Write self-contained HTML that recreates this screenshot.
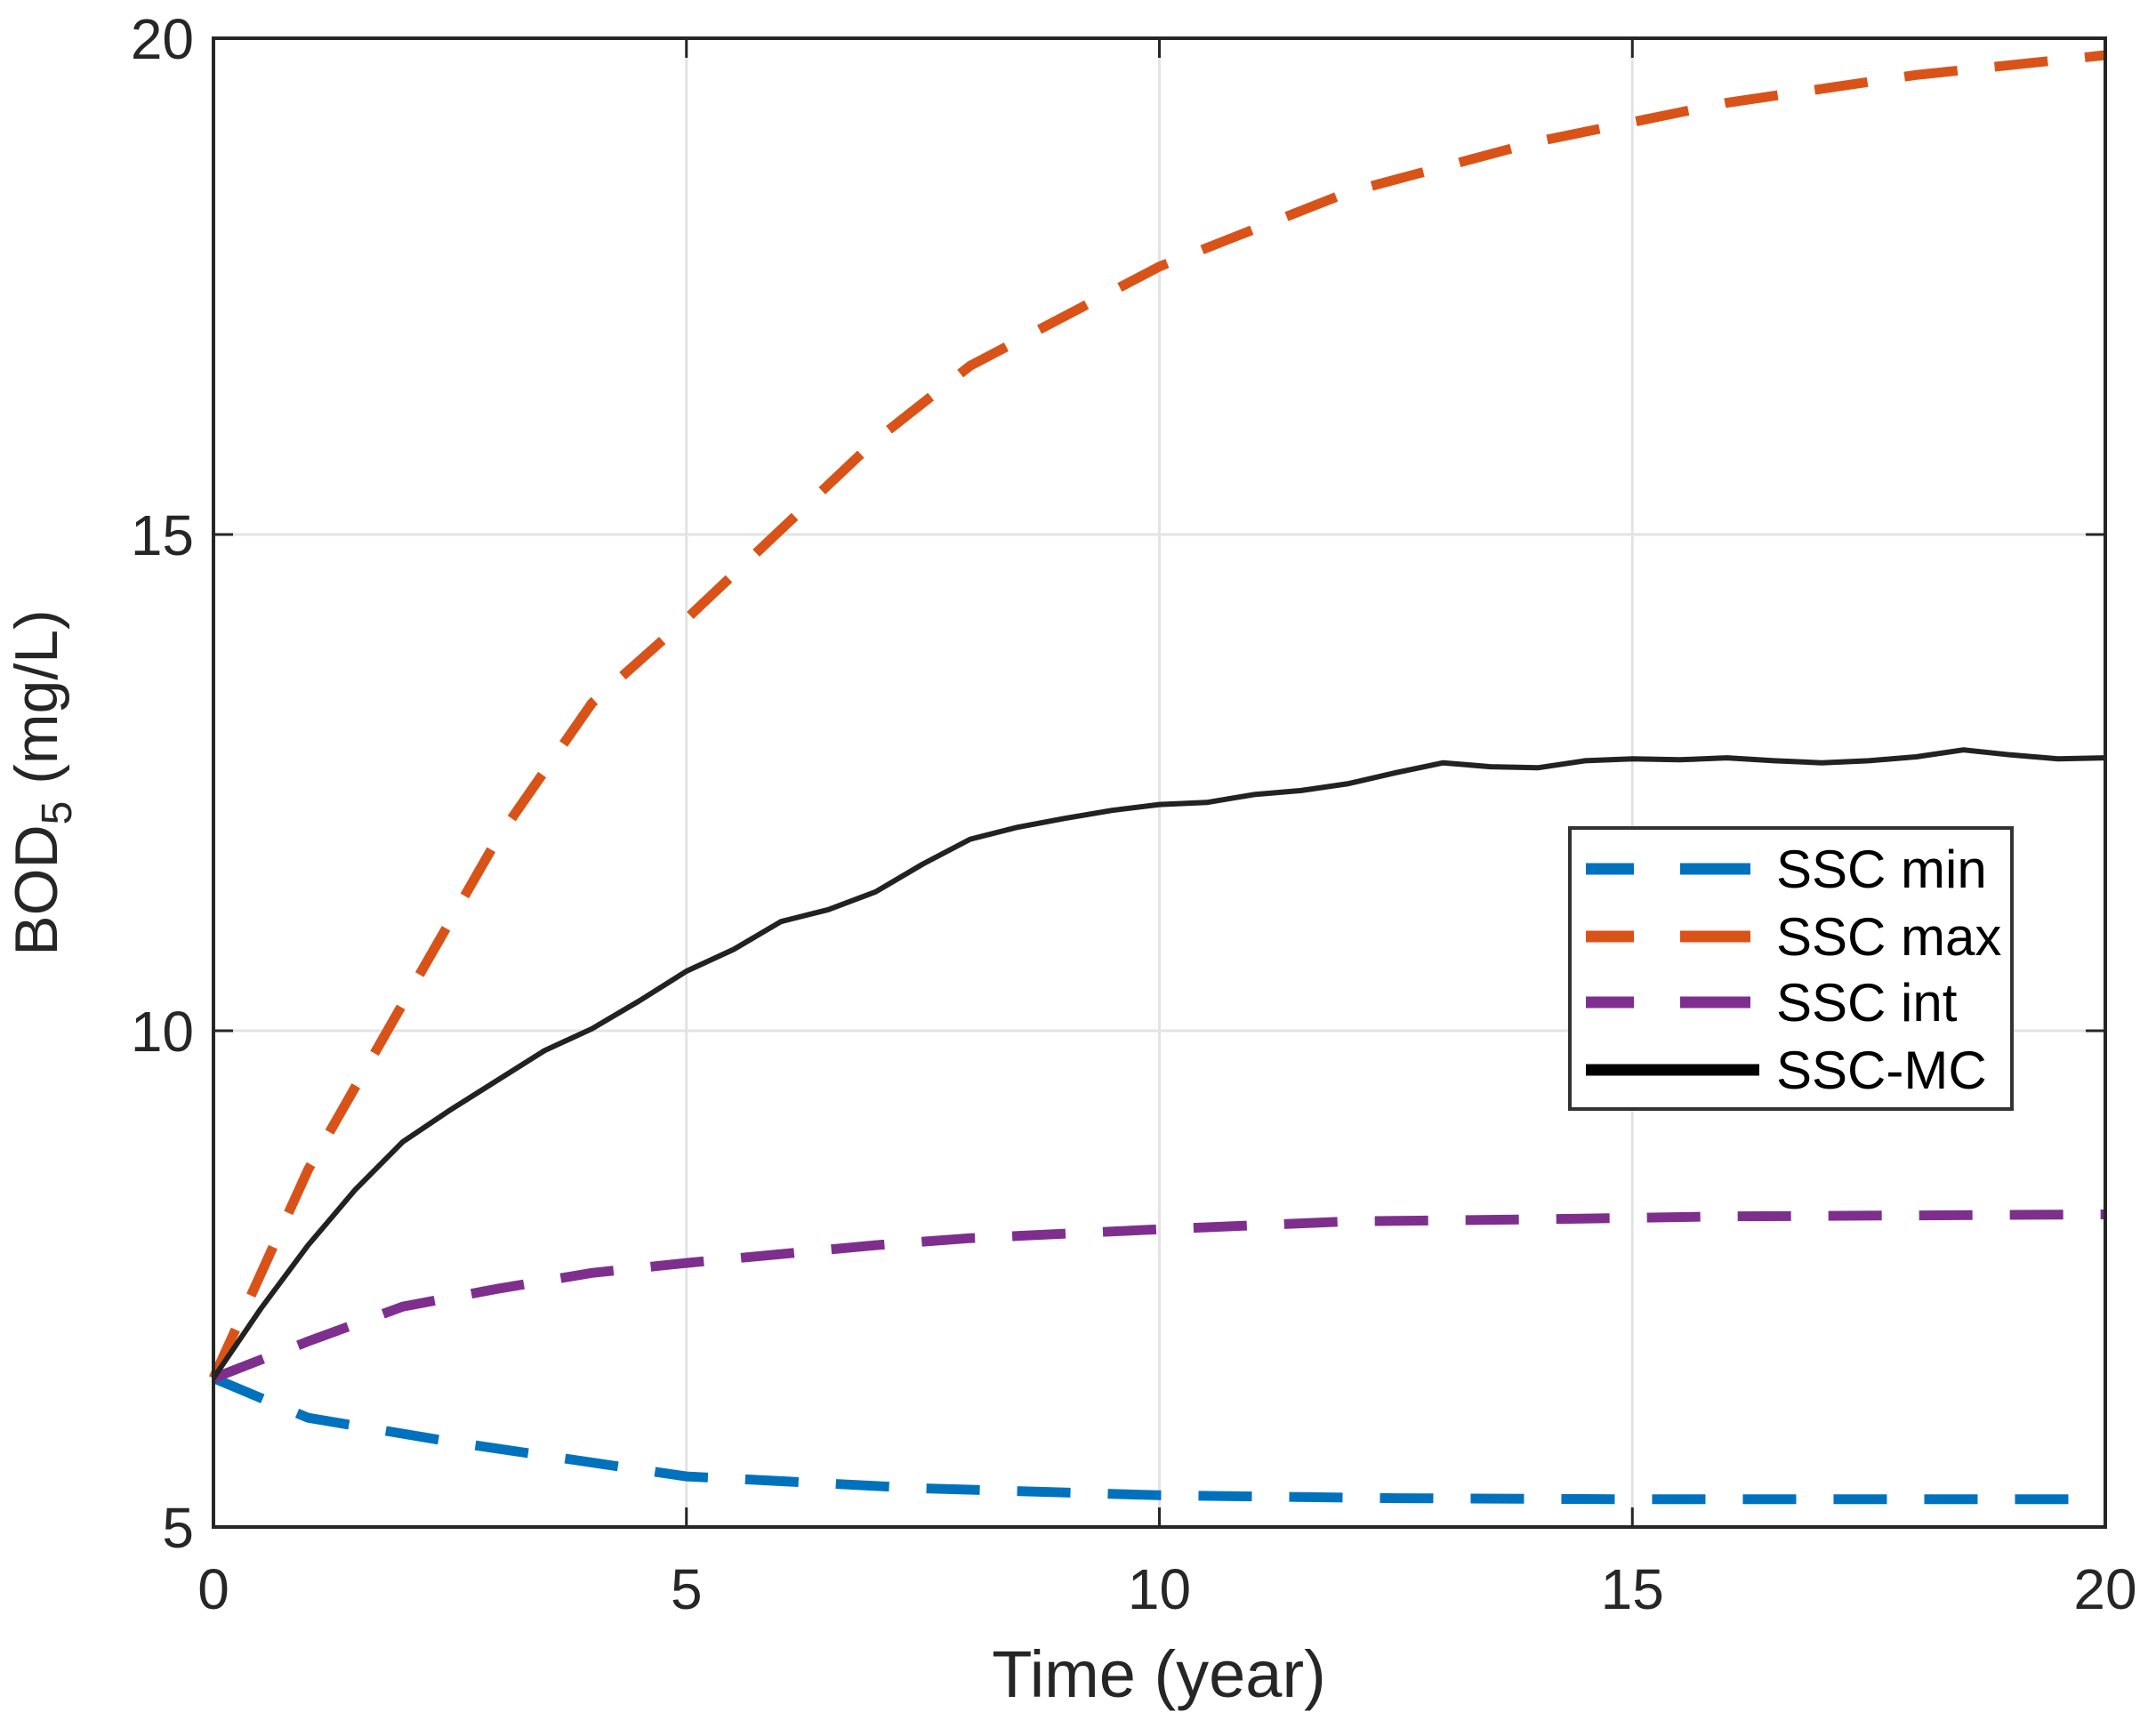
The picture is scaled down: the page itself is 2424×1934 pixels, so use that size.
<!DOCTYPE html>
<html><head><meta charset="utf-8"><style>
html,body{margin:0;padding:0;background:#fff;}
svg{display:block;font-family:"Liberation Sans",sans-serif;}
</style></head><body>
<svg id="chart" width="2424" height="1934" viewBox="0 0 2424 1934">
<g id="grid"></g>
<g id="series"></g>
<g id="axes"></g>
<text x="64" y="880" transform="rotate(-90 64 880)" text-anchor="middle" font-size="68" fill="#262626">BOD<tspan font-size="48" dy="16">5</tspan><tspan dy="-16"> (mg/L)</tspan></text>
<text x="1303" y="1908" text-anchor="middle" font-size="74" fill="#262626">Time (year)</text>
<g id="legend">
<rect x="1765" y="931" width="497" height="316" fill="#fff" stroke="#333" stroke-width="4"/>
<g><line x1="1783" y1="977" x2="1968" y2="977" stroke="#0072BD" stroke-width="13" stroke-dasharray="54 52 80"/><text x="1997" y="998" font-size="60" fill="#000">SSC min</text></g>
<g><line x1="1783" y1="1053" x2="1968" y2="1053" stroke="#D95319" stroke-width="13" stroke-dasharray="54 52 80"/><text x="1997" y="1074" font-size="60" fill="#000">SSC max</text></g>
<g><line x1="1783" y1="1127" x2="1968" y2="1127" stroke="#7E2F8E" stroke-width="13" stroke-dasharray="54 52 80"/><text x="1997" y="1148" font-size="60" fill="#000">SSC int</text></g>
<g><line x1="1783" y1="1203" x2="1978" y2="1203" stroke="#000" stroke-width="13"/><text x="1997" y="1224" font-size="60" fill="#000">SSC-MC</text></g>
</g>
</svg>
<script>
const xTicks = [0, 5, 10, 15, 20];
const yTicks = [5, 10, 15, 20];
const tMin = [0, 1, 2.5, 5, 7.5, 10, 12.5, 15, 17.5, 20];
const vMin = [6.5, 6.1, 5.86, 5.51, 5.39, 5.32, 5.29, 5.28, 5.28, 5.28];
const tMax = [0, 1, 2, 3, 4, 5, 6, 7, 8, 10, 12, 14, 16, 18, 20];
const vMax = [6.5, 8.6, 10.27, 11.93, 13.3, 14.15, 15.05, 15.95, 16.7, 17.7, 18.45, 18.96, 19.35, 19.63, 19.83];
const tInt = [0, 1, 2, 3, 4, 5, 6, 7, 8, 10, 12, 14, 16, 20];
const vInt = [6.5, 6.87, 7.22, 7.4, 7.56, 7.66, 7.75, 7.84, 7.91, 8.0, 8.08, 8.1, 8.13, 8.15];
const tMC = [0, 0.5, 1, 1.5, 2, 2.5, 3, 3.5, 4, 4.5, 5, 5.5, 6, 6.5, 7, 7.5, 8, 8.5, 9, 9.5, 10, 10.5, 11, 11.5, 12, 12.5, 13, 13.5, 14, 14.5, 15, 15.5, 16, 16.5, 17, 17.5, 18, 18.5, 19, 19.5, 20];
const vMC = [6.5, 7.2, 7.84, 8.4, 8.88, 9.2, 9.5, 9.8, 10.02, 10.3, 10.6, 10.82, 11.1, 11.22, 11.4, 11.68, 11.93, 12.05, 12.14, 12.22, 12.28, 12.3, 12.38, 12.42, 12.49, 12.6, 12.7, 12.66, 12.65, 12.72, 12.74, 12.73, 12.75, 12.72, 12.7, 12.72, 12.76, 12.83, 12.78, 12.74, 12.75];

const L = 240, R = 2367, T = 43, B = 1717;
const X0 = 0, X1 = 20, Y0 = 5, Y1 = 20;
const sx = v => L + (v - X0) / (X1 - X0) * (R - L);
const sy = v => B - (v - Y0) / (Y1 - Y0) * (B - T);
const NS = 'http://www.w3.org/2000/svg';
function mk(tag, attrs, parent) {
  const e = document.createElementNS(NS, tag);
  for (const k in attrs) e.setAttribute(k, attrs[k]);
  parent.appendChild(e);
  return e;
}
const grid = document.getElementById('grid');
const axes = document.getElementById('axes');
const series = document.getElementById('series');

xTicks.forEach(t => {
  if (t !== X0 && t !== X1) {
    const g = mk('line', {x1: sx(t), x2: sx(t), y1: T, y2: B, stroke: '#e3e3e3', 'stroke-width': 3}, grid);
    
    
  }
  const tk1 = mk('line', {x1: sx(t), x2: sx(t), y1: B, y2: B - 22, stroke: '#262626', 'stroke-width': 3}, axes);
  
  
  const tk2 = mk('line', {x1: sx(t), x2: sx(t), y1: T, y2: T + 22, stroke: '#262626', 'stroke-width': 3}, axes);
  
  
  const lb = mk('text', {x: sx(t), y: B + 92, 'text-anchor': 'middle', 'font-size': 64, fill: '#262626'}, axes);
  lb.textContent = t;
  
  
});
yTicks.forEach(t => {
  if (t !== Y0 && t !== Y1) {
    const g = mk('line', {x1: L, x2: R, y1: sy(t), y2: sy(t), stroke: '#e3e3e3', 'stroke-width': 3}, grid);
    
    
  }
  const tk1 = mk('line', {x1: L, x2: L + 22, y1: sy(t), y2: sy(t), stroke: '#262626', 'stroke-width': 3}, axes);
  
  
  const tk2 = mk('line', {x1: R, x2: R - 22, y1: sy(t), y2: sy(t), stroke: '#262626', 'stroke-width': 3}, axes);
  
  
  const lb = mk('text', {x: L - 22, y: sy(t) + 23, 'text-anchor': 'end', 'font-size': 64, fill: '#262626'}, axes);
  lb.textContent = t;
  
  
});
const frame = mk('rect', {x: L, y: T, width: R - L, height: B - T, fill: 'none', stroke: '#262626', 'stroke-width': 4}, axes);



function pts(ts, vs) { return ts.map((t, i) => sx(t).toFixed(1) + ',' + sy(vs[i]).toFixed(1)).join(' '); }
const lMin = mk('polyline', {points: pts(tMin, vMin), fill: 'none', stroke: '#0072BD', 'stroke-width': 11, 'stroke-dasharray': '60 42'}, series);


const lMax = mk('polyline', {points: pts(tMax, vMax), fill: 'none', stroke: '#D95319', 'stroke-width': 11, 'stroke-dasharray': '60 42'}, series);


const lInt = mk('polyline', {points: pts(tInt, vInt), fill: 'none', stroke: '#7E2F8E', 'stroke-width': 11, 'stroke-dasharray': '60 42'}, series);


const lMC = mk('polyline', {points: pts(tMC, vMC), fill: 'none', stroke: '#222', 'stroke-width': 6, 'stroke-linejoin': 'round'}, series);


</script>
</body></html>
